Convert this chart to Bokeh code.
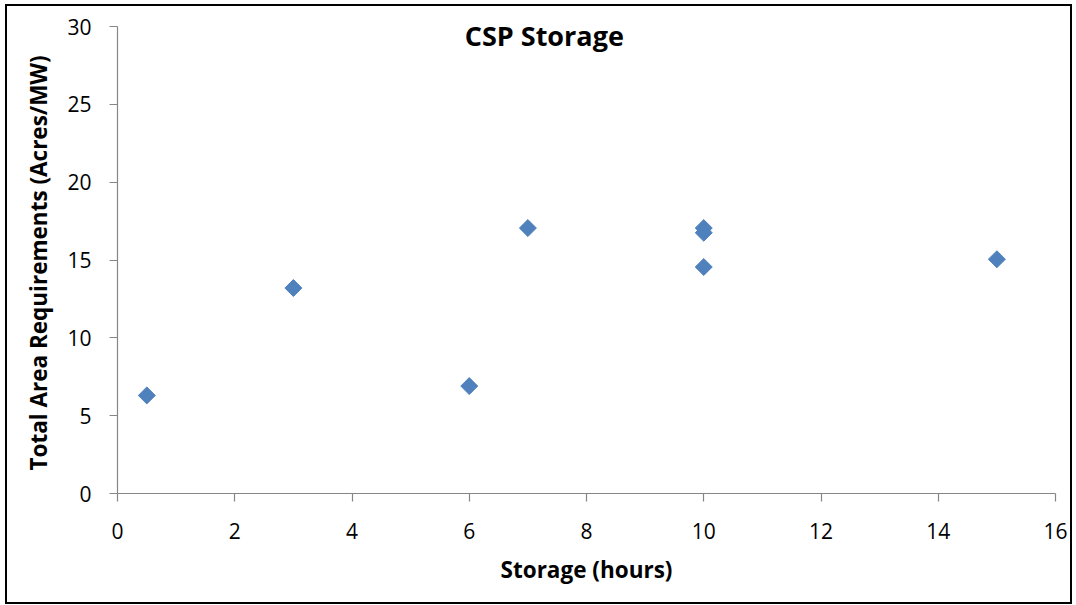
from bokeh.plotting import figure
from bokeh.models import Range1d, Label, FixedTicker
from bokeh.embed import file_html
from bokeh.resources import INLINE
import math

# Data
storage_hours = [0.5, 3, 6, 7, 10, 10, 10, 15]
area_acres_per_mw = [6.3, 13.2, 6.9, 17.05, 17.05, 16.75, 14.55, 15.05]
x_ticks = [0, 2, 4, 6, 8, 10, 12, 14, 16]
y_ticks = [0, 5, 10, 15, 20, 25, 30]

title_text = "CSP Storage"
x_label = "Storage (hours)"
y_label = "Total Area Requirements  (Acres/MW)"

FONT = "Open Sans"
AXIS_GRAY = "#868686"

p = figure(
    width=1067, height=600,
    output_backend="svg", toolbar_location=None,
    x_range=Range1d(0, 16), y_range=Range1d(0, 30),
    min_border_left=110, min_border_right=19,
    min_border_top=20, min_border_bottom=113,
)
p.styles = {"border": "2px solid black", "margin-left": "5px", "margin-top": "4px"}
p.background_fill_color = "white"
p.border_fill_color = "white"
p.outline_line_color = None
p.xgrid.grid_line_color = None
p.ygrid.grid_line_color = None

for ax, ticks in ((p.xaxis[0], x_ticks), (p.yaxis[0], y_ticks)):
    ax.ticker = FixedTicker(ticks=ticks)
    ax.axis_line_color = AXIS_GRAY
    ax.axis_line_width = 1.2
    ax.major_tick_line_color = AXIS_GRAY
    ax.major_tick_line_width = 1.2
    ax.major_tick_in = 0
    ax.major_tick_out = 8
    ax.minor_tick_line_color = None
    ax.major_label_text_font = FONT
    ax.major_label_text_font_size = "21px"
    ax.major_label_text_color = "black"
    ax.axis_label_text_font = FONT
    ax.axis_label_text_font_size = "22.5px"
    ax.axis_label_text_font_style = "bold"
    ax.axis_label_text_color = "black"

p.xaxis[0].axis_label = x_label
p.yaxis[0].axis_label = y_label
p.xaxis[0].major_label_standoff = 21
p.yaxis[0].major_label_standoff = 18
p.xaxis[0].axis_label_standoff = 12
p.yaxis[0].axis_label_standoff = 10

p.scatter(storage_hours, area_acres_per_mw, marker="square", size=12,
          angle=math.pi / 4, fill_color="#4F81BD", line_color="#4F81BD")

p.add_layout(Label(x=7.28, y=29.4, text=title_text, text_font=FONT,
                   text_font_size="27px", text_font_style="bold",
                   text_align="center", text_baseline="alphabetic",
                   text_color="black"))

open("out.html", "w").write(file_html(p, INLINE))
